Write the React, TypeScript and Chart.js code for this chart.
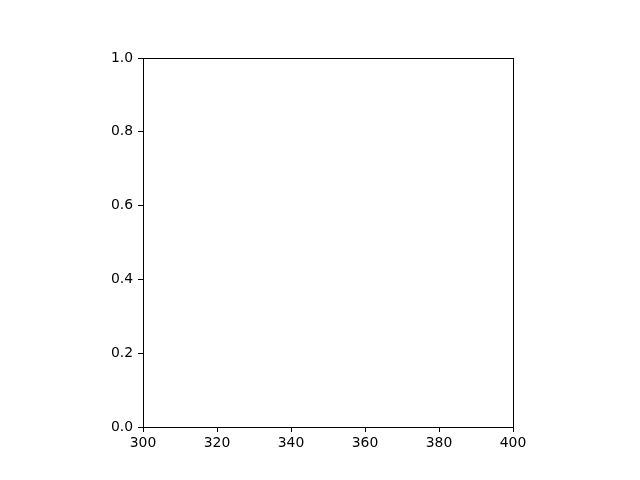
import React, { useEffect, useRef } from "react";
import { Chart, registerables } from "chart.js";

Chart.register(...registerables);

const xRange = [300, 400];
const yRange = [0, 1];
const xStep = 20;
const yStep = 0.2;
const points: { x: number; y: number }[] = [];

const FONT = { family: "DejaVu Sans", size: 13.9 };

const framePlugin = {
  id: "frame",
  afterDraw(chart: any) {
    const { ctx, chartArea } = chart;
    ctx.save();
    ctx.strokeStyle = "#000";
    ctx.lineWidth = 1;
    ctx.strokeRect(
      Math.round(chartArea.left) + 0.5,
      Math.round(chartArea.top) + 0.5,
      Math.round(chartArea.right - chartArea.left),
      Math.round(chartArea.bottom - chartArea.top)
    );
    ctx.restore();
  },
};

export default function App() {
  const ref = useRef<HTMLCanvasElement>(null);
  useEffect(() => {
    document.body.style.margin = "0";
    const chart = new Chart(ref.current!, {
      type: "scatter",
      data: { datasets: [{ data: points, backgroundColor: "#1f77b4" }] },
      options: {
        animation: false,
        responsive: false,
        devicePixelRatio: 1,
        layout: { padding: { left: 0, top: 58, right: 127, bottom: 0 } },
        plugins: { legend: { display: false }, tooltip: { enabled: false } },
        scales: {
          x: {
            type: "linear",
            min: xRange[0],
            max: xRange[1],
            afterFit: (s: any) => { s.height = 53; },
            ticks: { stepSize: xStep, color: "#000", font: FONT, padding: 3, maxRotation: 0 },
            grid: { drawOnChartArea: false, tickLength: 5, tickColor: "#000", tickWidth: 1 },
            border: { display: false },
          },
          y: {
            type: "linear",
            min: yRange[0],
            max: yRange[1],
            afterFit: (s: any) => { s.width = 143; },
            ticks: {
              stepSize: yStep,
              color: "#000",
              font: FONT,
              padding: 5,
              callback: (v: any) => Number(v).toFixed(1),
            },
            grid: { drawOnChartArea: false, tickLength: 5, tickColor: "#000", tickWidth: 1 },
            border: { display: false },
          },
        },
      },
      plugins: [framePlugin],
    });
    return () => chart.destroy();
  }, []);
  return (
    <canvas
      ref={ref}
      width={640}
      height={480}
      style={{ display: "block", width: 640, height: 480, background: "#fff" }}
    />
  );
}
